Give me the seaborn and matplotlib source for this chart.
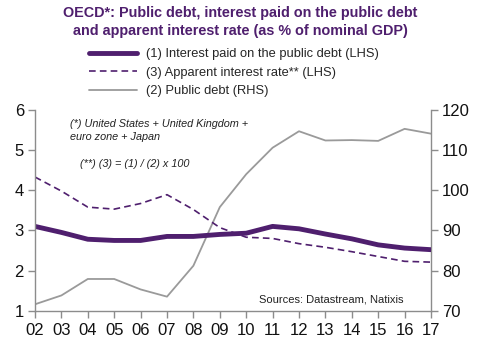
import matplotlib
matplotlib.use("Agg")
import matplotlib.pyplot as plt
import seaborn as sns
import pandas as pd
from matplotlib.lines import Line2D

years = ["02", "03", "04", "05", "06", "07", "08", "09", "10", "11", "12", "13", "14", "15", "16", "17"]
interest_paid = [3.10, 2.95, 2.78, 2.75, 2.75, 2.85, 2.85, 2.90, 2.93, 3.10, 3.04, 2.91, 2.79, 2.64, 2.56, 2.52]
apparent_rate = [4.33, 3.98, 3.58, 3.53, 3.67, 3.89, 3.52, 3.07, 2.83, 2.80, 2.67, 2.58, 2.47, 2.35, 2.23, 2.21]
public_debt = [71.6, 73.8, 77.9, 77.9, 75.3, 73.5, 81.2, 95.8, 104.0, 110.6, 114.7, 112.4, 112.5, 112.3, 115.3, 114.1]

title = "OECD*: Public debt, interest paid on the public debt\nand apparent interest rate (as % of nominal GDP)"
labels = ["(1) Interest paid on the public debt (LHS)",
          "(3) Apparent interest rate** (LHS)",
          "(2) Public debt (RHS)"]

purple = "#4f1f6e"
gray = "#9a9a9a"
axis_gray = "#8c8c8c"

sns.set_theme(style="white")
plt.rcParams['font.family'] = ['Liberation Sans', 'DejaVu Sans']

x = list(range(len(years)))
df = pd.DataFrame({"x": x, "interest": interest_paid, "rate": apparent_rate, "debt": public_debt})

fig = plt.figure(figsize=(4.88, 3.44), dpi=100)
ax = fig.add_axes([0.0717, 0.0968, 0.8115, 0.5835])
ax2 = ax.twinx()

sns.lineplot(data=df, x="x", y="debt", ax=ax2, color=gray, linewidth=1.3)
sns.lineplot(data=df, x="x", y="rate", ax=ax, color=purple, linewidth=1.2, linestyle=(0, (4, 2.5)))
sns.lineplot(data=df, x="x", y="interest", ax=ax, color=purple, linewidth=3.5)
ax.set_zorder(ax2.get_zorder() + 1)
ax.patch.set_visible(False)

ax.set_xlim(0, len(years) - 1)
ax.set_ylim(1, 6)
ax2.set_ylim(70, 120)
ax.set_xticks(x)
ax.set_xticklabels(years)
ax.set_yticks([1, 2, 3, 4, 5, 6])
ax2.set_yticks([70, 80, 90, 100, 110, 120])
ax.set_xlabel("")
ax.set_ylabel("")
ax2.set_xlabel("")
ax2.set_ylabel("")

for a in (ax, ax2):
    a.spines["top"].set_visible(False)
    for s in ("left", "right", "bottom"):
        a.spines[s].set_color(axis_gray)
        a.spines[s].set_linewidth(1.0)
ax.spines["right"].set_visible(False)
ax2.spines["left"].set_visible(False)
ax2.spines["bottom"].set_visible(False)

ax.tick_params(axis="both", which="both", direction="out", length=5, width=1, color=axis_gray,
               labelsize=12, colors="#111111", pad=3)
ax.tick_params(axis="both", color=axis_gray)
ax.tick_params(left=True, bottom=True)
ax2.tick_params(axis="y", direction="out", length=5, width=1, color=axis_gray, labelsize=12,
                labelcolor="#111111", right=True, pad=3)
ax.tick_params(axis="x", pad=4)

fig.text(0.492, 0.937, title, ha="center", va="center", fontsize=10.4, fontweight="bold",
         color=purple, linespacing=1.35)

handles = [Line2D([], [], color=purple, linewidth=3.5),
           Line2D([], [], color=purple, linewidth=1.2, linestyle=(0, (4, 2.5))),
           Line2D([], [], color=gray, linewidth=1.3)]
fig.legend(handles, labels, loc="upper left", bbox_to_anchor=(0.183, 0.86), frameon=False,
           fontsize=9.3, handlelength=3.7, handletextpad=0.7, labelspacing=0.5,
           borderaxespad=0, borderpad=0)

ax.text(0.088, 0.93, "(*) United States + United Kingdom +", transform=ax.transAxes,
        fontsize=7.8, style="italic", color="#222222", va="center")
ax.text(0.088, 0.866, "euro zone + Japan", transform=ax.transAxes,
        fontsize=7.8, style="italic", color="#222222", va="center")
ax.text(0.113, 0.731, "(**) (3) = (1) / (2) x 100", transform=ax.transAxes, fontsize=7.8,
        style="italic", color="#222222", va="center")
ax.text(0.749, 0.058, "Sources: Datastream, Natixis", transform=ax.transAxes, fontsize=8,
        color="#222222", ha="center", va="center")

fig.savefig("out.png", dpi=100)
